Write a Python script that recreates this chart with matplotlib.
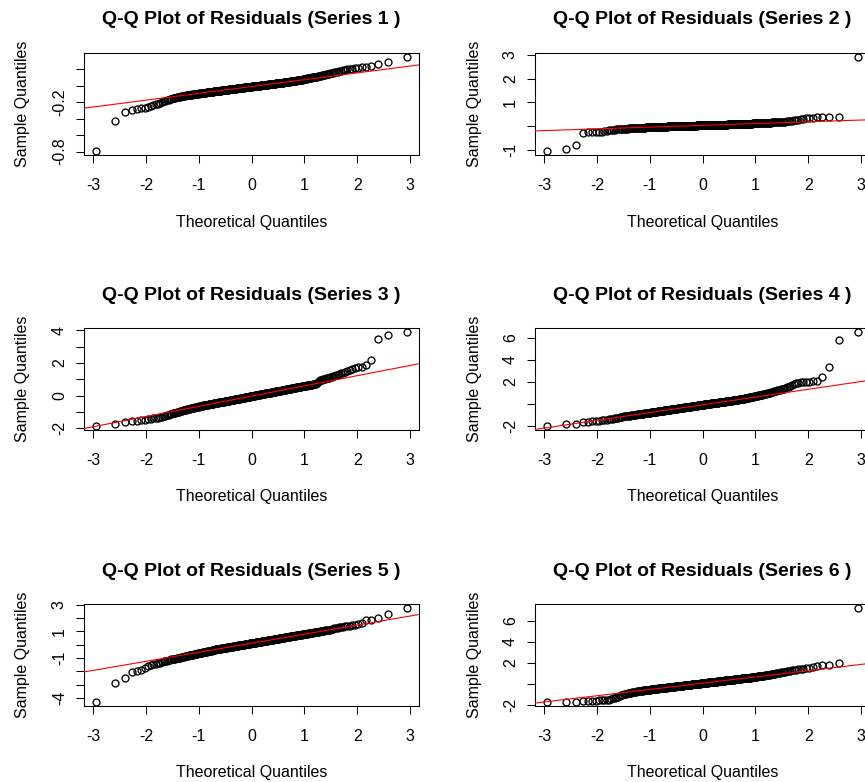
import numpy as np
import matplotlib
matplotlib.use("Agg")
import matplotlib.pyplot as plt
from statistics import NormalDist

plt.rcParams['font.family'] = ['Liberation Sans', 'DejaVu Sans']

# ---------------- data (sorted sample residuals) ----------------
series_labels = ["Series 1", "Series 2", "Series 3", "Series 4", "Series 5", "Series 6"]

s1 = [-0.796,-0.435,-0.326,-0.293,-0.281,-0.275,-0.268,-0.258,-0.247,-0.236,
      -0.226,-0.218,-0.210,-0.200,-0.190,-0.182,-0.176,-0.170,-0.165,-0.160,
      -0.156,-0.152,-0.148,-0.145,-0.142,-0.139,-0.136,-0.133,-0.130,-0.127,
      -0.125,-0.123,-0.121,-0.119,-0.117,-0.115,-0.113,-0.111,-0.109,-0.107,
      -0.105,-0.104,-0.103,-0.102,-0.100,-0.099,-0.098,-0.097,-0.096,-0.094,
      -0.093,-0.092,-0.091,-0.090,-0.089,-0.088,-0.087,-0.086,-0.085,-0.084,
      -0.083,-0.082,-0.081,-0.080,-0.079,-0.078,-0.077,-0.076,-0.075,-0.074,
      -0.073,-0.072,-0.071,-0.070,-0.069,-0.068,-0.068,-0.067,-0.066,-0.065,
      -0.064,-0.063,-0.062,-0.061,-0.061,-0.060,-0.059,-0.058,-0.057,-0.056,
      -0.055,-0.055,-0.054,-0.053,-0.052,-0.052,-0.051,-0.050,-0.049,-0.049,
      -0.048,-0.047,-0.046,-0.046,-0.045,-0.044,-0.043,-0.043,-0.042,-0.041,
      -0.041,-0.040,-0.039,-0.038,-0.038,-0.037,-0.036,-0.036,-0.035,-0.034,
      -0.033,-0.033,-0.032,-0.031,-0.031,-0.030,-0.029,-0.029,-0.028,-0.027,
      -0.026,-0.026,-0.025,-0.024,-0.024,-0.023,-0.022,-0.022,-0.021,-0.020,
      -0.019,-0.019,-0.018,-0.017,-0.017,-0.016,-0.015,-0.015,-0.014,-0.013,
      -0.013,-0.012,-0.011,-0.011,-0.010,-0.009,-0.009,-0.008,-0.007,-0.007,
      -0.006,-0.005,-0.004,-0.004,-0.003,-0.002,-0.002,-0.001,0.000,0.000,
      0.001,0.002,0.003,0.003,0.004,0.005,0.005,0.006,0.007,0.007,
      0.008,0.009,0.010,0.010,0.011,0.012,0.012,0.013,0.014,0.015,
      0.015,0.016,0.017,0.017,0.018,0.019,0.020,0.020,0.021,0.022,
      0.023,0.023,0.024,0.025,0.026,0.026,0.027,0.028,0.029,0.030,
      0.030,0.031,0.032,0.033,0.034,0.034,0.035,0.036,0.037,0.038,
      0.039,0.040,0.041,0.042,0.043,0.044,0.045,0.046,0.047,0.048,
      0.049,0.050,0.051,0.052,0.053,0.054,0.055,0.057,0.058,0.059,
      0.060,0.062,0.063,0.064,0.066,0.067,0.068,0.070,0.071,0.072,
      0.074,0.076,0.077,0.079,0.081,0.083,0.085,0.087,0.089,0.091,
      0.093,0.095,0.097,0.099,0.102,0.104,0.107,0.109,0.112,0.115,
      0.118,0.121,0.124,0.127,0.130,0.133,0.137,0.140,0.144,0.148,
      0.152,0.156,0.160,0.164,0.168,0.172,0.177,0.182,0.188,0.194,
      0.200,0.205,0.210,0.215,0.220,0.225,0.235,0.266,0.286,0.348]

s2 = [-1.07,-0.99,-0.81,-0.28,-0.27,-0.265,-0.26,-0.255,-0.25,-0.22,
      -0.20,-0.185,-0.175,-0.165,-0.155,-0.148,-0.142,-0.137,-0.132,-0.128,
      -0.124,-0.120,-0.117,-0.113,-0.109,-0.106,-0.103,-0.100,-0.097,-0.094,
      -0.092,-0.089,-0.087,-0.084,-0.082,-0.080,-0.078,-0.076,-0.074,-0.072,
      -0.070,-0.069,-0.067,-0.066,-0.064,-0.063,-0.061,-0.059,-0.058,-0.056,
      -0.055,-0.054,-0.052,-0.051,-0.049,-0.048,-0.047,-0.046,-0.044,-0.043,
      -0.042,-0.041,-0.040,-0.039,-0.037,-0.036,-0.035,-0.034,-0.033,-0.032,
      -0.031,-0.030,-0.029,-0.028,-0.027,-0.026,-0.025,-0.025,-0.024,-0.023,
      -0.022,-0.021,-0.021,-0.020,-0.019,-0.018,-0.017,-0.016,-0.015,-0.015,
      -0.014,-0.013,-0.012,-0.012,-0.011,-0.010,-0.009,-0.009,-0.008,-0.007,
      -0.006,-0.006,-0.005,-0.004,-0.004,-0.003,-0.002,-0.002,-0.001,0.000,
      0.001,0.001,0.002,0.003,0.003,0.004,0.004,0.005,0.005,0.006,
      0.007,0.007,0.008,0.008,0.009,0.010,0.010,0.011,0.011,0.012,
      0.013,0.013,0.014,0.014,0.015,0.016,0.016,0.017,0.017,0.018,
      0.019,0.019,0.020,0.020,0.021,0.021,0.022,0.023,0.023,0.024,
      0.024,0.025,0.025,0.026,0.027,0.027,0.028,0.028,0.029,0.029,
      0.030,0.031,0.031,0.032,0.032,0.033,0.034,0.034,0.035,0.035,
      0.036,0.037,0.037,0.038,0.038,0.039,0.040,0.040,0.041,0.041,
      0.042,0.043,0.043,0.044,0.044,0.045,0.045,0.046,0.047,0.047,
      0.048,0.049,0.050,0.050,0.051,0.052,0.052,0.053,0.054,0.054,
      0.055,0.056,0.057,0.057,0.058,0.059,0.060,0.060,0.061,0.062,
      0.063,0.063,0.064,0.065,0.066,0.067,0.068,0.069,0.069,0.070,
      0.071,0.072,0.073,0.073,0.074,0.075,0.076,0.077,0.078,0.079,
      0.080,0.081,0.082,0.083,0.084,0.085,0.087,0.088,0.089,0.090,
      0.091,0.092,0.094,0.095,0.096,0.097,0.099,0.100,0.102,0.103,
      0.104,0.106,0.107,0.109,0.111,0.112,0.114,0.115,0.117,0.118,
      0.120,0.122,0.124,0.126,0.128,0.130,0.132,0.135,0.137,0.140,
      0.142,0.145,0.148,0.151,0.154,0.157,0.161,0.165,0.168,0.172,
      0.176,0.180,0.185,0.192,0.200,0.210,0.222,0.235,0.250,0.270,
      0.290,0.310,0.320,0.335,0.345,0.360,0.375,0.380,0.385,2.920]

s3 = [-1.87,-1.71,-1.63,-1.57,-1.53,-1.50,-1.47,-1.44,-1.42,-1.39,
      -1.37,-1.34,-1.31,-1.28,-1.25,-1.22,-1.19,-1.16,-1.13,-1.10,
      -1.08,-1.06,-1.04,-1.02,-1.00,-0.98,-0.96,-0.94,-0.92,-0.90,
      -0.885,-0.87,-0.855,-0.84,-0.825,-0.81,-0.80,-0.785,-0.77,-0.755,
      -0.74,-0.73,-0.72,-0.71,-0.70,-0.69,-0.68,-0.67,-0.66,-0.65,
      -0.64,-0.63,-0.62,-0.61,-0.60,-0.60,-0.59,-0.58,-0.57,-0.57,
      -0.56,-0.55,-0.54,-0.54,-0.53,-0.52,-0.52,-0.51,-0.50,-0.50,
      -0.49,-0.48,-0.48,-0.47,-0.46,-0.45,-0.45,-0.44,-0.44,-0.43,
      -0.42,-0.42,-0.41,-0.40,-0.40,-0.39,-0.39,-0.38,-0.37,-0.37,
      -0.36,-0.35,-0.35,-0.34,-0.34,-0.33,-0.33,-0.32,-0.31,-0.31,
      -0.30,-0.30,-0.29,-0.28,-0.28,-0.27,-0.27,-0.26,-0.26,-0.25,
      -0.24,-0.24,-0.23,-0.23,-0.22,-0.22,-0.21,-0.21,-0.20,-0.20,
      -0.19,-0.19,-0.18,-0.18,-0.17,-0.16,-0.16,-0.15,-0.15,-0.14,
      -0.14,-0.13,-0.13,-0.12,-0.12,-0.11,-0.11,-0.10,-0.10,-0.09,
      -0.08,-0.08,-0.07,-0.07,-0.06,-0.06,-0.05,-0.05,-0.04,-0.04,
      -0.03,-0.03,-0.02,-0.02,-0.01,-0.01,0.00,0.00,0.01,0.01,
      0.02,0.02,0.03,0.03,0.04,0.04,0.05,0.05,0.06,0.07,
      0.07,0.08,0.08,0.09,0.09,0.10,0.10,0.11,0.11,0.12,
      0.13,0.13,0.14,0.14,0.15,0.15,0.16,0.16,0.17,0.17,
      0.18,0.19,0.19,0.20,0.20,0.21,0.21,0.22,0.22,0.23,
      0.24,0.24,0.25,0.26,0.26,0.27,0.27,0.28,0.28,0.29,
      0.30,0.30,0.31,0.31,0.32,0.33,0.33,0.34,0.34,0.35,
      0.36,0.37,0.37,0.38,0.39,0.39,0.40,0.40,0.41,0.42,
      0.42,0.43,0.44,0.44,0.45,0.46,0.46,0.47,0.48,0.49,
      0.50,0.50,0.51,0.52,0.53,0.53,0.54,0.55,0.56,0.57,
      0.57,0.58,0.59,0.59,0.60,0.61,0.62,0.62,0.63,0.64,
      0.65,0.66,0.67,0.68,0.69,0.71,0.74,0.78,0.83,0.88,
      0.93,0.96,0.98,1.00,1.02,1.04,1.06,1.08,1.10,1.12,
      1.14,1.17,1.20,1.24,1.28,1.32,1.36,1.40,1.45,1.50,
      1.55,1.60,1.66,1.72,1.77,1.84,2.20,3.46,3.70,3.90]

s4 = [-2.00,-1.79,-1.78,-1.66,-1.58,-1.55,-1.52,-1.49,-1.46,-1.43,
      -1.40,-1.37,-1.34,-1.31,-1.28,-1.26,-1.23,-1.21,-1.18,-1.16,
      -1.12,-1.11,-1.09,-1.07,-1.06,-1.04,-1.03,-1.01,-1.00,-0.98,
      -0.97,-0.96,-0.94,-0.93,-0.92,-0.91,-0.89,-0.88,-0.87,-0.86,
      -0.85,-0.84,-0.83,-0.82,-0.81,-0.80,-0.79,-0.78,-0.77,-0.76,
      -0.75,-0.74,-0.73,-0.72,-0.71,-0.70,-0.69,-0.69,-0.68,-0.67,
      -0.66,-0.65,-0.64,-0.64,-0.63,-0.62,-0.61,-0.61,-0.60,-0.59,
      -0.58,-0.57,-0.57,-0.56,-0.55,-0.54,-0.54,-0.53,-0.52,-0.52,
      -0.51,-0.50,-0.49,-0.49,-0.48,-0.47,-0.47,-0.46,-0.45,-0.44,
      -0.44,-0.43,-0.42,-0.42,-0.41,-0.40,-0.40,-0.39,-0.38,-0.38,
      -0.37,-0.36,-0.36,-0.35,-0.35,-0.34,-0.33,-0.33,-0.32,-0.31,
      -0.31,-0.30,-0.30,-0.29,-0.28,-0.28,-0.27,-0.26,-0.26,-0.25,
      -0.25,-0.24,-0.23,-0.23,-0.22,-0.22,-0.21,-0.20,-0.20,-0.19,
      -0.18,-0.18,-0.17,-0.17,-0.16,-0.16,-0.15,-0.14,-0.14,-0.13,
      -0.13,-0.12,-0.11,-0.11,-0.10,-0.10,-0.09,-0.08,-0.08,-0.07,
      -0.07,-0.06,-0.05,-0.05,-0.04,-0.04,-0.03,-0.02,-0.02,-0.01,
      -0.01,0.00,0.01,0.01,0.02,0.02,0.03,0.04,0.04,0.05,
      0.05,0.06,0.07,0.07,0.08,0.08,0.09,0.10,0.10,0.11,
      0.11,0.12,0.13,0.13,0.14,0.14,0.15,0.16,0.16,0.17,
      0.17,0.18,0.19,0.19,0.20,0.21,0.21,0.22,0.22,0.23,
      0.24,0.24,0.25,0.26,0.26,0.27,0.28,0.28,0.29,0.30,
      0.30,0.31,0.32,0.32,0.33,0.34,0.34,0.35,0.36,0.37,
      0.37,0.38,0.39,0.40,0.40,0.41,0.42,0.43,0.43,0.44,
      0.45,0.46,0.47,0.48,0.49,0.50,0.51,0.52,0.53,0.55,
      0.56,0.57,0.58,0.60,0.61,0.62,0.63,0.65,0.66,0.68,
      0.69,0.71,0.72,0.74,0.75,0.77,0.78,0.80,0.81,0.83,
      0.84,0.86,0.88,0.90,0.92,0.94,0.96,0.98,1.00,1.03,
      1.05,1.08,1.11,1.14,1.17,1.20,1.23,1.26,1.29,1.33,
      1.36,1.40,1.45,1.50,1.55,1.62,1.70,1.78,1.87,1.93,
      1.96,1.98,2.00,2.03,2.07,2.12,2.40,3.34,5.75,6.52]

s5 = [-4.31,-2.84,-2.48,-2.03,-1.97,-1.90,-1.75,-1.62,-1.52,-1.46,
      -1.42,-1.38,-1.34,-1.30,-1.26,-1.23,-1.20,-1.17,-1.14,-1.11,
      -1.09,-1.07,-1.05,-1.03,-1.01,-0.99,-0.97,-0.95,-0.93,-0.91,
      -0.89,-0.87,-0.86,-0.84,-0.82,-0.81,-0.79,-0.78,-0.76,-0.75,
      -0.74,-0.72,-0.71,-0.70,-0.69,-0.67,-0.66,-0.65,-0.64,-0.62,
      -0.61,-0.60,-0.59,-0.58,-0.57,-0.56,-0.55,-0.54,-0.53,-0.52,
      -0.51,-0.50,-0.49,-0.48,-0.47,-0.46,-0.45,-0.44,-0.43,-0.42,
      -0.40,-0.39,-0.38,-0.37,-0.36,-0.35,-0.34,-0.34,-0.33,-0.32,
      -0.32,-0.31,-0.30,-0.30,-0.29,-0.28,-0.28,-0.27,-0.26,-0.26,
      -0.25,-0.24,-0.24,-0.23,-0.22,-0.22,-0.21,-0.20,-0.20,-0.19,
      -0.19,-0.18,-0.17,-0.17,-0.16,-0.16,-0.15,-0.14,-0.14,-0.13,
      -0.12,-0.12,-0.11,-0.11,-0.10,-0.09,-0.09,-0.08,-0.08,-0.07,
      -0.06,-0.06,-0.05,-0.05,-0.04,-0.04,-0.03,-0.02,-0.02,-0.01,
      0.00,0.00,0.01,0.01,0.02,0.02,0.03,0.03,0.04,0.05,
      0.05,0.06,0.06,0.07,0.07,0.08,0.09,0.09,0.10,0.10,
      0.11,0.11,0.12,0.12,0.13,0.14,0.14,0.15,0.15,0.16,
      0.17,0.17,0.18,0.18,0.19,0.19,0.20,0.21,0.21,0.22,
      0.22,0.23,0.23,0.24,0.25,0.25,0.26,0.26,0.27,0.28,
      0.28,0.29,0.29,0.30,0.31,0.31,0.32,0.32,0.33,0.34,
      0.34,0.35,0.35,0.36,0.37,0.37,0.38,0.38,0.39,0.40,
      0.40,0.41,0.42,0.42,0.43,0.43,0.44,0.45,0.45,0.46,
      0.47,0.47,0.48,0.49,0.49,0.50,0.51,0.51,0.52,0.53,
      0.54,0.54,0.55,0.56,0.56,0.57,0.58,0.59,0.59,0.60,
      0.61,0.62,0.62,0.63,0.64,0.64,0.65,0.66,0.67,0.68,
      0.69,0.69,0.70,0.71,0.72,0.73,0.73,0.74,0.75,0.76,
      0.77,0.78,0.79,0.80,0.81,0.82,0.83,0.84,0.85,0.86,
      0.87,0.88,0.89,0.90,0.91,0.93,0.94,0.95,0.96,0.98,
      0.99,1.00,1.02,1.03,1.05,1.06,1.08,1.09,1.11,1.13,
      1.15,1.18,1.21,1.24,1.27,1.30,1.33,1.35,1.37,1.40,
      1.43,1.46,1.49,1.52,1.60,1.83,1.88,1.96,2.26,2.76]

s6 = [-1.75,-1.72,-1.70,-1.63,-1.61,-1.60,-1.59,-1.58,-1.57,-1.56,
      -1.55,-1.50,-1.45,-1.39,-1.33,-1.27,-1.21,-1.15,-1.09,-1.03,
      -0.99,-0.96,-0.93,-0.90,-0.87,-0.85,-0.83,-0.81,-0.79,-0.77,
      -0.75,-0.74,-0.72,-0.71,-0.69,-0.68,-0.67,-0.65,-0.64,-0.63,
      -0.62,-0.61,-0.60,-0.59,-0.58,-0.57,-0.56,-0.55,-0.54,-0.53,
      -0.52,-0.51,-0.50,-0.49,-0.49,-0.48,-0.47,-0.46,-0.46,-0.45,
      -0.44,-0.44,-0.43,-0.42,-0.41,-0.41,-0.40,-0.39,-0.39,-0.38,
      -0.37,-0.37,-0.36,-0.36,-0.35,-0.34,-0.34,-0.33,-0.32,-0.32,
      -0.31,-0.31,-0.30,-0.29,-0.29,-0.28,-0.28,-0.27,-0.26,-0.26,
      -0.25,-0.25,-0.24,-0.23,-0.23,-0.22,-0.22,-0.21,-0.21,-0.20,
      -0.20,-0.19,-0.18,-0.18,-0.17,-0.17,-0.16,-0.16,-0.15,-0.15,
      -0.14,-0.14,-0.13,-0.13,-0.12,-0.12,-0.11,-0.11,-0.10,-0.10,
      -0.09,-0.08,-0.08,-0.07,-0.07,-0.06,-0.06,-0.05,-0.05,-0.04,
      -0.04,-0.03,-0.03,-0.02,-0.02,-0.01,-0.01,0.00,0.00,0.01,
      0.01,0.02,0.02,0.03,0.03,0.04,0.04,0.05,0.05,0.06,
      0.06,0.07,0.07,0.08,0.08,0.09,0.09,0.10,0.10,0.11,
      0.11,0.12,0.12,0.13,0.13,0.14,0.14,0.15,0.15,0.16,
      0.16,0.17,0.17,0.18,0.18,0.19,0.19,0.20,0.20,0.21,
      0.21,0.22,0.22,0.23,0.24,0.24,0.25,0.25,0.26,0.26,
      0.27,0.27,0.28,0.28,0.29,0.29,0.30,0.30,0.31,0.32,
      0.32,0.33,0.33,0.34,0.34,0.35,0.35,0.36,0.36,0.37,
      0.38,0.38,0.39,0.39,0.40,0.40,0.41,0.42,0.42,0.43,
      0.44,0.44,0.45,0.45,0.46,0.47,0.47,0.48,0.48,0.49,
      0.50,0.51,0.51,0.52,0.53,0.53,0.54,0.55,0.55,0.56,
      0.57,0.58,0.58,0.59,0.60,0.60,0.61,0.62,0.63,0.64,
      0.65,0.66,0.67,0.68,0.69,0.70,0.71,0.72,0.73,0.74,
      0.75,0.76,0.78,0.79,0.81,0.82,0.84,0.85,0.87,0.88,
      0.90,0.92,0.94,0.96,0.98,1.00,1.02,1.04,1.06,1.08,
      1.10,1.13,1.16,1.19,1.22,1.25,1.28,1.31,1.34,1.37,
      1.40,1.44,1.47,1.52,1.60,1.68,1.78,1.81,2.00,7.24]

all_series = [s1, s2, s3, s4, s5, s6]

x_ticks = [-3, -2, -1, 0, 1, 2, 3]
x_ticklabels = ["-3", "-2", "-1", "0", "1", "2", "3"]

y_ticks = [
    [-0.8, -0.6, -0.4, -0.2, 0.0, 0.2],
    [-1, 0, 1, 2, 3],
    [-2, -1, 0, 1, 2, 3, 4],
    [-2, 0, 2, 4, 6],
    [-4, -3, -2, -1, 0, 1, 2, 3],
    [-2, 0, 2, 4, 6],
]
y_ticklabels = [
    ["-0.8", "", "", "-0.2", "", ""],
    ["-1", "", "1", "2", "3"],
    ["-2", "", "0", "", "2", "", "4"],
    ["-2", "", "2", "4", "6"],
    ["-4", "", "", "-1", "", "1", "", "3"],
    ["-2", "", "2", "4", "6"],
]

title_text = "Q-Q Plot of Residuals ({} )"
xlabel_text = "Theoretical Quantiles"
ylabel_text = "Sample Quantiles"

# ---------------- layout (pixels) ----------------
W, H = 865, 782
col_left = [84, 535]
row_top = [53, 328, 604]
ax_w, ax_h = 335, 102

fig = plt.figure(figsize=(W / 100, H / 100), dpi=100)
fig.patch.set_facecolor('white')

nd = NormalDist()


def ppoints(n):
    a = 3 / 8 if n <= 10 else 0.5
    return [(i + 1 - a) / (n + 1 - 2 * a) for i in range(n)]


def r_range(lo, hi):
    pad = 0.04 * (hi - lo)
    return lo - pad, hi + pad


for k, values in enumerate(all_series):
    r, c = divmod(k, 2)
    left = col_left[c] / W
    bottom = 1 - (row_top[r] + ax_h) / H
    ax = fig.add_axes([left, bottom, ax_w / W, ax_h / H])

    y = np.sort(np.asarray(values, dtype=float))
    n = len(y)
    x = np.array([nd.inv_cdf(p) for p in ppoints(n)])

    ax.plot(x, y, linestyle='none', marker='o', mfc='none', mec='black',
            ms=5.0, mew=0.95, zorder=2)

    # qqline through the quartiles
    q = np.quantile(y, [0.25, 0.75])
    zq = np.array([nd.inv_cdf(0.25), nd.inv_cdf(0.75)])
    slope = (q[1] - q[0]) / (zq[1] - zq[0])
    icpt = q[0] - slope * zq[0]
    ax.axline((0, icpt), slope=slope, color='#ff0000', lw=0.8, zorder=3)

    ax.set_xlim(*r_range(x.min(), x.max()))
    ax.set_ylim(*r_range(y.min(), y.max()))

    ax.set_xticks(x_ticks)
    ax.set_xticklabels(x_ticklabels)
    ax.set_yticks(y_ticks[k])
    ax.set_yticklabels(y_ticklabels[k])

    ax.tick_params(axis='both', direction='out', length=5.8, width=0.75,
                   labelsize=11.5, colors='black')
    ax.tick_params(axis='x', pad=10.5)
    ax.tick_params(axis='y', pad=6.5, labelrotation=90)
    for t in ax.get_yticklabels():
        t.set_verticalalignment('center')
    for sp in ax.spines.values():
        sp.set_linewidth(0.75)
        sp.set_color('black')

    ax.text(0.5, 1 + 33 / ax_h, title_text.format(series_labels[k]),
            transform=ax.transAxes, ha='center', va='center',
            fontsize=14, fontweight='bold', color='black')
    ax.text(0.5, -67 / ax_h, xlabel_text, transform=ax.transAxes,
            ha='center', va='center', fontsize=11.5, color='black')
    ax.text(-61 / ax_w, 0.5, ylabel_text, transform=ax.transAxes,
            ha='center', va='center', rotation=90, fontsize=11.5, color='black')

fig.savefig('out.png', dpi=100)
